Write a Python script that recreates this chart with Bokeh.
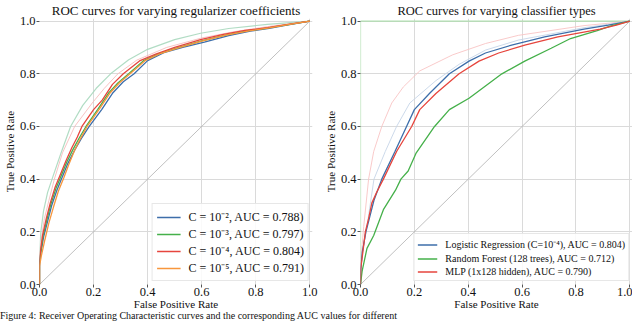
from bokeh.plotting import figure
from bokeh.layouts import row, column
from bokeh.models import FixedTicker, PrintfTickFormatter, Div
from bokeh.embed import file_html
from bokeh.resources import INLINE

FONT = "Liberation Serif"
TICKS = [0.0, 0.2, 0.4, 0.6, 0.8, 1.0]

# ---------------- left panel: regularizer coefficients ----------------
left_title = "ROC curves for varying regularizer coefficients"
c2_label = "C = 10\u207b\u00b2, AUC = 0.788)"
c2_fpr = [0, 0.0, 0.005, 0.015, 0.03, 0.045, 0.065, 0.085, 0.105, 0.13, 0.155, 0.184, 0.23, 0.27, 0.31, 0.35, 0.40, 0.46, 0.53, 0.61, 0.70, 0.78, 0.85, 0.92, 1.0]
c2_tpr = [0, 0.08, 0.12, 0.18, 0.24, 0.30, 0.36, 0.41, 0.46, 0.51, 0.555, 0.60, 0.664, 0.726, 0.77, 0.80, 0.85, 0.88, 0.90, 0.92, 0.945, 0.962, 0.973, 0.986, 1.0]

c3_label = "C = 10\u207b\u00b3, AUC = 0.797)"
c3_fpr = [0, 0.0, 0.005, 0.013, 0.027, 0.042, 0.061, 0.081, 0.101, 0.125, 0.148, 0.172, 0.215, 0.255, 0.29, 0.33, 0.385, 0.445, 0.515, 0.60, 0.69, 0.77, 0.845, 0.92, 1.0]
c3_tpr = [0, 0.085, 0.125, 0.185, 0.245, 0.305, 0.365, 0.415, 0.465, 0.515, 0.558, 0.60, 0.664, 0.726, 0.765, 0.80, 0.85, 0.878, 0.90, 0.925, 0.948, 0.964, 0.974, 0.987, 1.0]

c4_label = "C = 10\u207b\u2074, AUC = 0.804)"
c4_fpr = [0, 0.0, 0.004, 0.012, 0.025, 0.04, 0.058, 0.078, 0.098, 0.12, 0.14, 0.157, 0.20, 0.232, 0.27, 0.31, 0.37, 0.43, 0.50, 0.596, 0.68, 0.76, 0.844, 0.92, 1.0]
c4_tpr = [0, 0.09, 0.13, 0.19, 0.25, 0.31, 0.37, 0.42, 0.47, 0.52, 0.56, 0.60, 0.664, 0.70, 0.76, 0.80, 0.849, 0.875, 0.90, 0.93, 0.95, 0.965, 0.975, 0.988, 1.0]

c5_label = "C = 10\u207b\u2075, AUC = 0.791)"
c5_fpr = [0, 0.0, 0.007, 0.02, 0.035, 0.052, 0.07, 0.09, 0.108, 0.13, 0.152, 0.176, 0.22, 0.26, 0.295, 0.335, 0.39, 0.45, 0.52, 0.60, 0.69, 0.775, 0.85, 0.92, 1.0]
c5_tpr = [0, 0.07, 0.11, 0.17, 0.235, 0.295, 0.355, 0.405, 0.455, 0.51, 0.555, 0.60, 0.664, 0.726, 0.765, 0.80, 0.85, 0.878, 0.90, 0.924, 0.947, 0.963, 0.974, 0.987, 1.0]

# faint (training) curves, left panel
lt_green_fpr = [0, 0.0, 0.005, 0.015, 0.03, 0.053, 0.08, 0.115, 0.16, 0.21, 0.263, 0.33, 0.40, 0.50, 0.596, 0.70, 0.843, 1.0]
lt_green_tpr = [0, 0.12, 0.20, 0.28, 0.35, 0.42, 0.50, 0.60, 0.68, 0.745, 0.80, 0.853, 0.893, 0.93, 0.954, 0.972, 0.988, 1.0]
lt_pink_fpr = [0, 0.0, 0.006, 0.018, 0.035, 0.055, 0.085, 0.13, 0.195, 0.24, 0.29, 0.36, 0.47, 0.60, 0.72, 0.85, 1.0]
lt_pink_tpr = [0, 0.10, 0.17, 0.25, 0.32, 0.40, 0.50, 0.60, 0.689, 0.745, 0.80, 0.852, 0.90, 0.936, 0.96, 0.98, 1.0]

# ---------------- right panel: classifier types ----------------
right_title = "ROC curves for varying classifier types"
lr_label = "Logistic Regression (C=10\u207b\u2074), AUC = 0.804)"
lr_fpr = [0, 0.001, 0.007, 0.02, 0.03, 0.05, 0.079, 0.128, 0.171, 0.20, 0.256, 0.33, 0.403, 0.464, 0.561, 0.684, 0.83, 0.92, 1.0]
lr_tpr = [0, 0.06, 0.125, 0.20, 0.24, 0.32, 0.40, 0.505, 0.60, 0.664, 0.725, 0.80, 0.848, 0.879, 0.909, 0.94, 0.97, 0.985, 1.0]

rf_label = "Random Forest (128 trees), AUC = 0.712)"
rf_fpr = [0, 0.006, 0.024, 0.049, 0.085, 0.13, 0.15, 0.177, 0.207, 0.275, 0.33, 0.403, 0.525, 0.61, 0.708, 0.78, 0.879, 0.93, 1.0]
rf_tpr = [0, 0.051, 0.137, 0.186, 0.284, 0.358, 0.40, 0.431, 0.50, 0.60, 0.664, 0.707, 0.80, 0.848, 0.897, 0.934, 0.964, 0.982, 1.0]

mlp_label = "MLP (1x128 hidden), AUC = 0.790)"
mlp_fpr = [0, 0.001, 0.009, 0.018, 0.03, 0.042, 0.06, 0.085, 0.134, 0.19, 0.22, 0.28, 0.366, 0.44, 0.513, 0.61, 0.733, 0.89, 0.95, 1.0]
mlp_tpr = [0, 0.06, 0.125, 0.20, 0.25, 0.309, 0.35, 0.40, 0.505, 0.60, 0.664, 0.725, 0.80, 0.848, 0.879, 0.909, 0.94, 0.97, 0.985, 1.0]

# faint (training) curves, right panel
tr_mlp_fpr = [0, 0.002, 0.012, 0.03, 0.049, 0.079, 0.116, 0.159, 0.22, 0.342, 0.464, 0.586, 0.83, 1.0]
tr_mlp_tpr = [0, 0.10, 0.22, 0.40, 0.505, 0.60, 0.689, 0.75, 0.811, 0.872, 0.915, 0.946, 0.983, 1.0]
tr_lr_fpr = [0, 0.003, 0.024, 0.05, 0.092, 0.134, 0.183, 0.28, 0.366, 0.464, 0.586, 0.83, 1.0]
tr_lr_tpr = [0, 0.10, 0.22, 0.40, 0.505, 0.60, 0.689, 0.774, 0.836, 0.89, 0.928, 0.975, 1.0]
tr_rf_fpr = [0, 0, 1.0]
tr_rf_tpr = [0, 1.0, 1.0]

chance = [0, 1]

caption = ("Figure 4: Receiver Operating Characteristic curves and the corresponding "
           "AUC values for different")

BLUE = "#3d6eaa"
GREEN = "#45b04a"
RED = "#e6453d"
ORANGE = "#f8963c"

FIG_H = 312


def make_fig(title, frame_w, title_size, border_left, border_right):
    p = figure(frame_width=frame_w, height=FIG_H, x_range=(0, 1.01), y_range=(0, 1.01),
               output_backend="svg", toolbar_location=None,
               min_border_left=border_left, min_border_right=border_right,
               min_border_top=0, min_border_bottom=0)
    p.title.text = title
    p.title.align = "center"
    p.title.text_font = FONT
    p.title.text_font_size = title_size
    p.title.text_font_style = "normal"
    p.title.text_color = "#111111"
    p.title.standoff = 1
    p.outline_line_color = None
    p.background_fill_color = "white"
    p.border_fill_color = "white"
    p.axis.ticker = FixedTicker(ticks=TICKS)
    p.axis.formatter = PrintfTickFormatter(format="%.1f")
    p.axis.axis_line_color = None
    p.axis.major_tick_out = 3
    p.axis.major_tick_in = 0
    p.axis.minor_tick_out = 0
    p.axis.minor_tick_in = 0
    p.axis.major_tick_line_color = "#555555"
    p.axis.major_label_text_font = FONT
    p.axis.major_label_text_font_size = "12.5px"
    p.axis.major_label_text_color = "#111111"
    p.axis.major_label_standoff = 1
    p.axis.axis_label_text_font = FONT
    p.axis.axis_label_text_font_size = "11px"
    p.axis.axis_label_text_font_style = "normal"
    p.axis.axis_label_text_color = "#111111"
    p.yaxis.axis_label_standoff = 1
    p.xaxis.axis_label_standoff = -1
    p.xaxis.major_label_standoff = 0
    p.xaxis.axis_label = "False Positive Rate"
    p.yaxis.axis_label = "True Positive Rate"
    p.xgrid.ticker = FixedTicker(ticks=TICKS)
    p.ygrid.ticker = FixedTicker(ticks=TICKS)
    p.xgrid.grid_line_color = "#dadada"
    p.ygrid.grid_line_color = "#dadada"
    p.line(chance, chance, line_color="#b0b0b0", line_width=0.8)
    return p


def style_legend(p, font_size, glyph_w, row_h, spacing, padding):
    lg = p.legend[0]
    lg.location = "bottom_right"
    lg.margin = 3
    lg.padding = padding
    lg.spacing = spacing
    lg.glyph_width = glyph_w
    lg.glyph_height = row_h
    lg.label_height = row_h
    lg.label_standoff = 8
    lg.label_text_font = FONT
    lg.label_text_font_size = font_size
    lg.label_text_color = "#111111"
    lg.border_line_color = "#cfcfcf"
    lg.background_fill_alpha = 0.85


# left
p1 = make_fig(left_title, 273, "13px", 0, 8)
p1.line(lt_green_fpr, lt_green_tpr, line_color="#a9d8be", line_width=1.2, line_alpha=0.9)
p1.line(lt_pink_fpr, lt_pink_tpr, line_color="#f6bcbc", line_width=1.0, line_alpha=0.9)
p1.line(c2_fpr, c2_tpr, line_color=BLUE, line_width=1.3, legend_label=c2_label)
p1.line(c3_fpr, c3_tpr, line_color=GREEN, line_width=1.3, legend_label=c3_label)
p1.line(c4_fpr, c4_tpr, line_color=RED, line_width=1.3, legend_label=c4_label)
p1.line(c5_fpr, c5_tpr, line_color=ORANGE, line_width=1.3, legend_label=c5_label)
style_legend(p1, "12px", 24, 14, 0, 4)

# right
p2 = make_fig(right_title, 272, "12.5px", 40, 0)
p2.line(tr_rf_fpr, tr_rf_tpr, line_color="#a8dca8", line_width=1.2, line_alpha=0.9)
p2.line(tr_mlp_fpr, tr_mlp_tpr, line_color="#f8c4c4", line_width=1.0, line_alpha=0.9)
p2.line(tr_lr_fpr, tr_lr_tpr, line_color="#c7d5e8", line_width=1.0, line_alpha=0.9)
p2.line(lr_fpr, lr_tpr, line_color=BLUE, line_width=1.3, legend_label=lr_label)
p2.line(rf_fpr, rf_tpr, line_color=GREEN, line_width=1.3, legend_label=rf_label)
p2.line(mlp_fpr, mlp_tpr, line_color=RED, line_width=1.3, legend_label=mlp_label)
style_legend(p2, "10px", 20, 11, 2, 3)

cap = Div(text='<div style="font-family:\'Liberation Serif\';font-size:10px;'
               'white-space:nowrap;line-height:11px;color:#111;">' + caption + '</div>',
          width=620, height=11, margin=(-5, 0, 0, 0))

layout = column(row(p1, p2, spacing=0), cap, spacing=0)
open("out.html", "w").write(file_html(layout, INLINE))
